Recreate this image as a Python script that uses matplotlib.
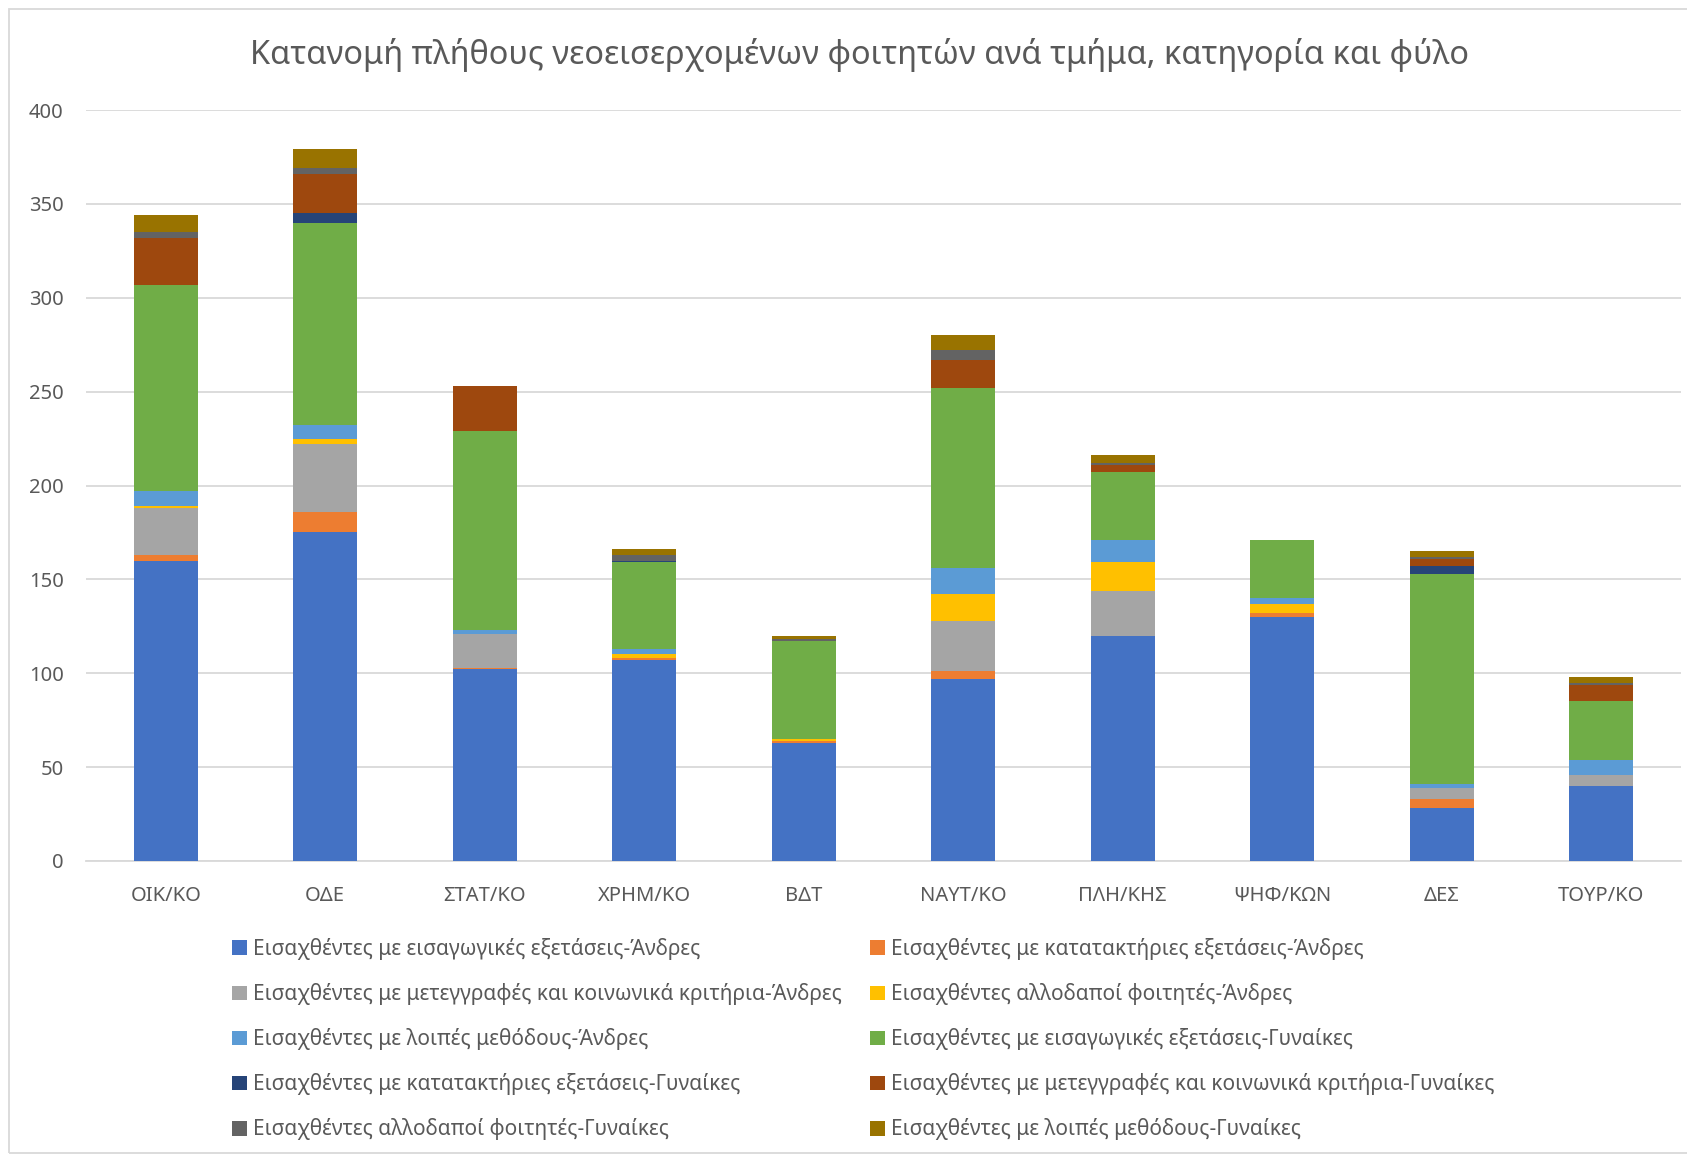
import numpy as np
import matplotlib
matplotlib.use("Agg")
import matplotlib.pyplot as plt
from matplotlib.patches import Rectangle

plt.rcParams['font.family'] = ['Noto Sans', 'DejaVu Sans']

# τμήματα
departments = ['ΟΙΚ/ΚΟ', 'ΟΔΕ', 'ΣΤΑΤ/ΚΟ', 'ΧΡΗΜ/ΚΟ', 'ΒΔΤ',
               'ΝΑΥΤ/ΚΟ', 'ΠΛΗ/ΚΗΣ', 'ΨΗΦ/ΚΩΝ', 'ΔΕΣ', 'ΤΟΥΡ/ΚΟ']

# Άνδρες
m_exams = [160, 175, 102, 107, 63, 97, 120, 130, 28, 40]
m_kat = [3, 11, 1, 1, 1, 4, 0, 2, 5, 0]
m_meteg = [25, 36, 18, 0, 0, 27, 24, 0, 6, 6]
m_allod = [1, 3, 0, 2, 1, 14, 15, 5, 0, 0]
m_loipes = [8, 7, 2, 3, 0, 14, 12, 3, 2, 8]
# Γυναίκες
f_exams = [110, 108, 106, 46, 52, 96, 36, 31, 112, 31]
f_kat = [0, 5, 0, 1, 0, 0, 0, 0, 4, 0]
f_meteg = [25, 21, 24, 0, 0, 15, 4, 0, 4, 9]
f_allod = [3, 3, 0, 3, 1, 5, 1, 0, 1, 1]
f_loipes = [9, 10, 0, 3, 2, 8, 4, 0, 3, 3]

series = [
    ('Εισαχθέντες με εισαγωγικές εξετάσεις-Άνδρες', m_exams, '#4472C4'),
    ('Εισαχθέντες με κατατακτήριες εξετάσεις-Άνδρες', m_kat, '#ED7D31'),
    ('Εισαχθέντες με μετεγγραφές και κοινωνικά κριτήρια-Άνδρες', m_meteg, '#A5A5A5'),
    ('Εισαχθέντες αλλοδαποί φοιτητές-Άνδρες', m_allod, '#FFC000'),
    ('Εισαχθέντες με λοιπές μεθόδους-Άνδρες', m_loipes, '#5B9BD5'),
    ('Εισαχθέντες με εισαγωγικές εξετάσεις-Γυναίκες', f_exams, '#70AD47'),
    ('Εισαχθέντες με κατατακτήριες εξετάσεις-Γυναίκες', f_kat, '#264478'),
    ('Εισαχθέντες με μετεγγραφές και κοινωνικά κριτήρια-Γυναίκες', f_meteg, '#9E480E'),
    ('Εισαχθέντες αλλοδαποί φοιτητές-Γυναίκες', f_allod, '#636363'),
    ('Εισαχθέντες με λοιπές μεθόδους-Γυναίκες', f_loipes, '#997300'),
]

W, H = 1687, 1156
fig = plt.figure(figsize=(W / 100, H / 100), dpi=100)
ax = fig.add_axes([86 / W, 1 - 861 / H, (1681 - 86) / W, (861 - 110) / H])

x = np.arange(len(departments))
bottom = np.zeros(len(departments))
handles = []
for label, vals, color in series:
    b = ax.bar(x, vals, 0.4, bottom=bottom, color=color, label=label, zorder=3)
    handles.append(b)
    bottom += np.array(vals)

ax.set_xlim(-0.5, len(departments) - 0.5)
ax.set_ylim(0, 400)
ax.set_yticks(range(0, 401, 50))
ax.set_xticks(x)
ax.set_xticklabels(departments)
ax.grid(axis='y', color='#D9D9D9', linewidth=1.3, zorder=0)
for s in ['top', 'right', 'left']:
    ax.spines[s].set_visible(False)
ax.spines['bottom'].set_color('#D9D9D9')
ax.spines['bottom'].set_linewidth(1.3)
ax.tick_params(axis='both', length=0, labelsize=14.5, colors='#595959')
ax.tick_params(axis='y', pad=16)
ax.tick_params(axis='x', pad=18)

fig.text(859 / W, 1 - 55 / H, 'Κατανομή πλήθους νεοεισερχομένων φοιτητών ανά τμήμα, κατηγορία και φύλο',
         ha='center', va='center', fontsize=23.4, color='#595959')

# σειρά υπομνήματος όπως στο Excel (ανά γραμμή)
order = [0, 2, 4, 6, 8, 1, 3, 5, 7, 9]
fig.legend([handles[i] for i in order], [series[i][0] for i in order],
           ncol=2, loc='upper left', bbox_to_anchor=(232 / W, 1 - 938 / H),
           frameon=False, fontsize=15, handlelength=0.7, handleheight=0.7,
           handletextpad=0.3, labelspacing=1.11, columnspacing=1.36,
           borderpad=0, borderaxespad=0, labelcolor='#595959')

fig.patches.append(Rectangle((9 / W, 3 / H), 1.2, 1 - 12 / H, transform=fig.transFigure,
                             fill=False, edgecolor='#D9D9D9', linewidth=1.3))

fig.savefig('out.png', dpi=100)
